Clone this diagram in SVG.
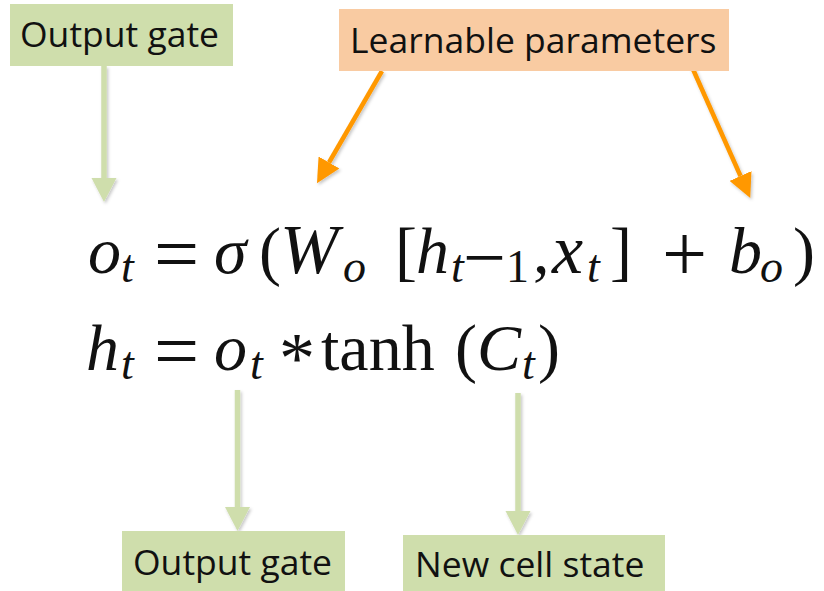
<svg xmlns="http://www.w3.org/2000/svg" width="824" height="591" viewBox="0 0 824 591">
  <defs>
    <style>
      .lbl { font-family: "Open Sans", "DejaVu Sans", sans-serif; font-size: 35.5px; fill: #111; }
      .gbox { fill: #cfdeac; }
      .obox { fill: #f9cba2; }
      .m { font-family: "Liberation Serif", "Times New Roman", serif; font-size: 66px; fill: #111; }
      .mi { font-style: italic; }
      .s { font-size: 46px; }
      .op { font-size: 80px; }
      .glink { stroke: #cfdeac; stroke-width: 5.5; fill: none; }
      .olink { stroke: #ff9800; stroke-width: 4.5; fill: none; }
    </style>
    <filter id="sh" x="-20%" y="-20%" width="140%" height="140%">
      <feDropShadow dx="1.5" dy="2" stdDeviation="1.5" flood-color="#000" flood-opacity="0.22"/>
    </filter>
    <marker id="gh" markerUnits="userSpaceOnUse" markerWidth="24" markerHeight="26" refX="0" refY="12.5" orient="auto">
      <path d="M0,0 L24,12.5 L0,25 z" fill="#cfdeac"/>
    </marker>
    <marker id="oh" markerUnits="userSpaceOnUse" markerWidth="24" markerHeight="24" refX="0" refY="12" orient="auto">
      <path d="M0,0 L24,12 L0,24 z" fill="#ff9800"/>
    </marker>
  </defs>
  <rect width="824" height="591" fill="#ffffff"/>

  <g id="connectors" filter="url(#sh)">
    <line class="glink" x1="104" y1="66" x2="104" y2="178" marker-end="url(#gh)"/>
    <line class="olink" x1="382" y1="71" x2="329" y2="162.5" marker-end="url(#oh)"/>
    <line class="olink" x1="692" y1="67" x2="740.5" y2="176" marker-end="url(#oh)"/>
    <line class="glink" x1="237.5" y1="390" x2="237.5" y2="507" marker-end="url(#gh)"/>
    <line class="glink" x1="518" y1="393" x2="518" y2="511" marker-end="url(#gh)"/>
  </g>

  <g id="label-output-gate-top">
    <rect class="gbox" x="10" y="4" width="223" height="62"/>
    <text class="lbl" x="20" y="47">Output gate</text>
  </g>

  <g id="label-learnable">
    <rect class="obox" x="339" y="9" width="390" height="62"/>
    <text class="lbl" x="350" y="53">Learnable parameters</text>
  </g>

  <g id="label-output-gate-bottom">
    <rect class="gbox" x="122" y="531" width="223" height="60"/>
    <text class="lbl" x="133" y="575">Output gate</text>
  </g>

  <g id="label-new-cell-state">
    <rect class="gbox" x="403" y="535" width="262" height="56"/>
    <text class="lbl" x="415" y="577">New cell state</text>
  </g>

  <g id="equation-1" class="m">
    <text class="mi" x="88" y="273">o</text>
    <text class="mi s" x="121" y="282">t</text>
    <text class="op" x="154" y="281">=</text>
    <text class="mi" x="214" y="273">σ</text>
    <text x="259" y="273">(</text>
    <text class="mi" x="280" y="273" font-size="70">W</text>
    <text class="mi s" x="343" y="282">o</text>
    <text x="395" y="273">[</text>
    <text class="mi" x="416" y="273">h</text>
    <text class="mi s" x="451" y="282">t</text>
    <text x="463" y="283" font-size="76">−</text>
    <text class="s" x="506" y="282">1</text>
    <text x="533" y="273">,</text>
    <text class="mi" x="552" y="273" font-size="70">x</text>
    <text class="mi s" x="587" y="282">t</text>
    <text x="610" y="273">]</text>
    <text class="op" x="662" y="281">+</text>
    <text class="mi" x="729" y="273">b</text>
    <text class="mi s" x="760" y="282">o</text>
    <text x="793" y="273">)</text>
  </g>

  <g id="equation-2" class="m">
    <text class="mi" x="86" y="370">h</text>
    <text class="mi s" x="121" y="379">t</text>
    <text class="op" x="154" y="378">=</text>
    <text class="mi" x="214" y="370">o</text>
    <text class="mi s" x="250" y="379">t</text>
    <text x="279" y="382" font-size="72">*</text>
    <text x="321" y="370">tanh</text>
    <text x="455" y="370">(</text>
    <text class="mi" x="477" y="370">C</text>
    <text class="mi s" x="522" y="379">t</text>
    <text x="538" y="370">)</text>
  </g>
</svg>
